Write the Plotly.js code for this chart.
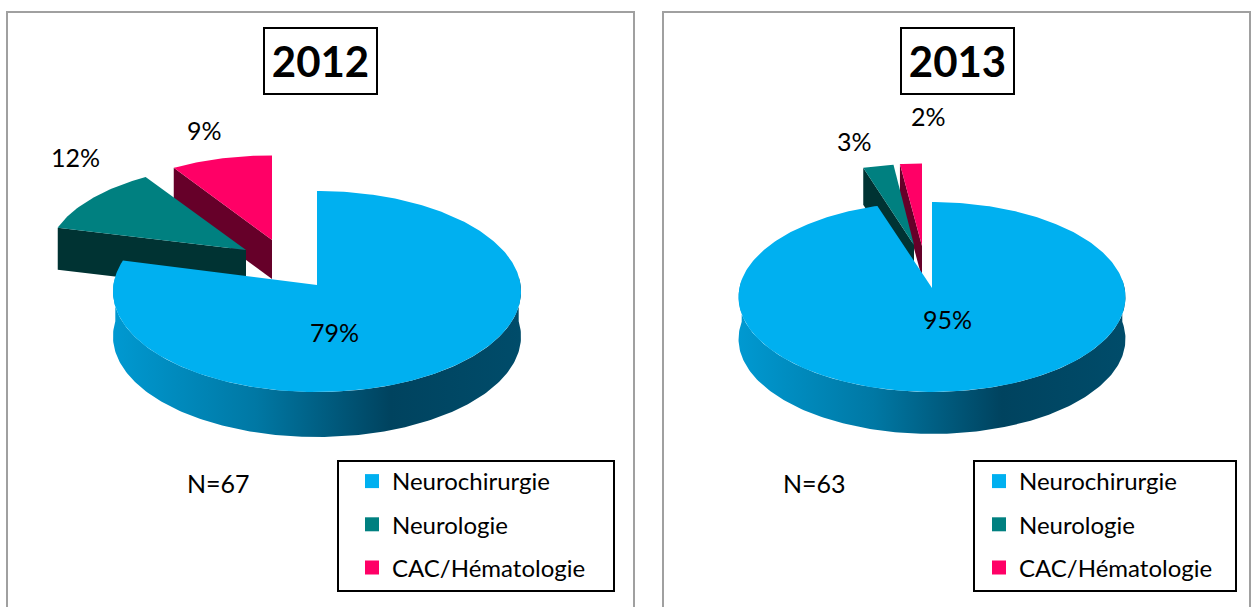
<!DOCTYPE html>
<html>
<head>
<meta charset="utf-8">
<script src="https://cdn.plot.ly/plotly-3.0.1.min.js"></script>
<style>
  html, body { margin: 0; padding: 0; background: #fff; overflow: hidden; }
  #chart { width: 1256px; height: 607px; }
</style>
</head>
<body>
<div id="chart"></div>
<script>
const categories = ['Neurochirurgie', 'Neurologie', 'CAC/Hématologie']
const values2012 = [79, 12, 9]
const values2013 = [95, 3, 2]
const colors = ['#00B0F0', '#008080', '#FF0066']
const sideColors = [null, '#003333', '#660029']

const FONT = 'Lato, "Liberation Sans", sans-serif'

// perspective pie: R = x radius, q = y radius, k = how much the back shrinks
const pies = [
    {
        year: '2012', values: values2012, n: 67, legend: 'legend', cx: 317, ay: 285, R: 203.6, q: 100.1, k: 0.0646, depth: 45,
        // slice offsets once exploded, all in px
        explode: [null, { dx: -71, dy: -35, sx: 0.97, sy: 0.91, depth: 42 }, { dx: -45, dy: -45, sx: 0.95, sy: 0.9, depth: 39 }],
        labels: [[334, 332], [75, 157], [204, 130]],
        frame: [7, 634], titleBox: [320, 61], nPos: [218, 483], legendBox: [338, 614], legendX: 358,
    },
    {
        year: '2013', values: values2013, n: 63, legend: 'legend2', cx: 932, ay: 288, R: 192.6, q: 94.1, k: 0.0947, depth: 42,
        explode: [null, { dx: -18, dy: -43, sx: 0.93, sy: 0.94, depth: 37 }, { dx: -10, dy: -42, sx: 1, sy: 0.96, depth: 32 }],
        labels: [[947, 319], [854, 141], [928, 116]],
        frame: [663, 1250], titleBox: [957, 61], nPos: [814, 483], legendBox: [974, 1236], legendX: 985,
    },
]

// angle in degrees, clockwise from 12 o'clock
const project = (pie, deg, e) => {
    const a = deg * Math.PI / 180
    const u = Math.sin(a), v = Math.cos(a)
    const p = 1 / (1 + pie.k * v)
    const sx = e ? e.sx : 1, sy = e ? e.sy : 1
    return [
        pie.cx + (e ? e.dx : 0) + u * pie.R * p * sx,
        pie.ay + (e ? e.dy : 0) - v * pie.q * p * sy,
    ]
}

const arc = (pie, from, to, e) => {
    let pts = []
    const steps = Math.ceil(Math.abs(to - from))
    for (let i = 0; i <= steps; i++) pts.push(project(pie, from + (to - from) * i / steps, e))
    return pts
}

const polygon = (pts, fill) => ({
    type: 'scatter',
    mode: 'lines',
    x: pts.map(p => p[0]),
    y: pts.map(p => p[1]),
    fill: 'toself',
    line: { width: 0 },
    hoverinfo: 'skip',
    showlegend: false,
    ...fill,
})

const apex = (pie, e) => [pie.cx + (e ? e.dx : 0), pie.ay + (e ? e.dy : 0)]

let data = []
let annotations = []
let shapes = []
let layoutLegends = {}

pies.forEach(pie => {
    const total = pie.values.reduce((a, b) => a + b, 0)
    let starts = [], acc = 0
    pie.values.forEach(v => { starts.push(acc / total * 360); acc += v })

    // back to front: last slice, middle slice, then the big one
    for (let i = pie.values.length - 1; i >= 1; i--) {
        const e = pie.explode[i]
        const from = starts[i]
        const to = from + pie.values[i] / total * 360
        const c = project(pie, from, e)
        const a = apex(pie, e)
        data.push(polygon([c, a, [a[0], a[1] + e.depth], [c[0], c[1] + e.depth]], { fillcolor: sideColors[i] }))
        data.push(polygon([a, ...arc(pie, from, to, e)], { fillcolor: colors[i] }))
    }

    const rim = arc(pie, 85, 275, null)
    const rimLow = rim.map(p => [p[0], p[1] + pie.depth]).reverse()
    data.push(polygon([...rim, ...rimLow], {
        fillgradient: {
            type: 'horizontal',
            colorscale: [[0, '#0099D1'], [0.35, '#0078A4'], [0.68, '#00435F'], [1, '#004C6A']],
        },
    }))
    data.push(polygon([apex(pie, null), ...arc(pie, 0, pie.values[0] / total * 360, null)], { fillcolor: colors[0] }))

    // legend entries
    categories.forEach((name, i) => {
        data.push({
            type: 'scatter',
            mode: 'markers',
            x: [null],
            y: [null],
            name: name,
            legend: pie.legend,
            legendgroup: pie.year + name,
            marker: { symbol: 'square', size: 14, color: colors[i] },
            hoverinfo: 'skip',
        })
    })
    layoutLegends[pie.legend] = {
        x: pie.legendX / 1256,
        y: 1 - 459 / 607,
        xanchor: 'left',
        yanchor: 'top',
        bgcolor: 'rgba(0,0,0,0)',
        borderwidth: 0,
        tracegroupgap: 9,
        indentation: -6,
        font: { family: FONT, size: 24, color: '#000' },
    }

    // frame and boxes
    shapes.push({ type: 'rect', xref: 'x', yref: 'y', x0: pie.frame[0], x1: pie.frame[1], y0: 12, y1: 630, line: { color: '#A0A0A0', width: 2 }, layer: 'below' })
    shapes.push({ type: 'rect', xref: 'x', yref: 'y', x0: pie.legendBox[0], x1: pie.legendBox[1], y0: 461, y1: 591, line: { color: '#000', width: 2 } })

    annotations.push({
        x: pie.titleBox[0], y: pie.titleBox[1], xref: 'x', yref: 'y', text: '<b>' + pie.year + '</b>', showarrow: false,
        font: { family: FONT, size: 42, color: '#000' },
        width: 111, height: 64, bordercolor: '#000', borderwidth: 2, borderpad: 0, bgcolor: '#fff',
    })
    annotations.push({
        x: pie.nPos[0], y: pie.nPos[1], xref: 'x', yref: 'y', text: 'N=' + pie.n, showarrow: false,
        font: { family: FONT, size: 25, color: '#000' },
    })
    pie.values.forEach((v, i) => {
        annotations.push({
            x: pie.labels[i][0], y: pie.labels[i][1], xref: 'x', yref: 'y', text: v + '%', showarrow: false,
            font: { family: FONT, size: 25, color: '#000' },
        })
    })
})

const layout = {
    width: 1256,
    height: 607,
    margin: { l: 0, r: 0, t: 0, b: 0 },
    paper_bgcolor: '#fff',
    plot_bgcolor: '#fff',
    showlegend: true,
    xaxis: { range: [0, 1256], visible: false, fixedrange: true },
    yaxis: { range: [607, 0], visible: false, fixedrange: true },
    shapes: shapes,
    annotations: annotations,
    ...layoutLegends,
}

Plotly.newPlot('chart', data, layout, { displayModeBar: false, responsive: false })
</script>
</body>
</html>
